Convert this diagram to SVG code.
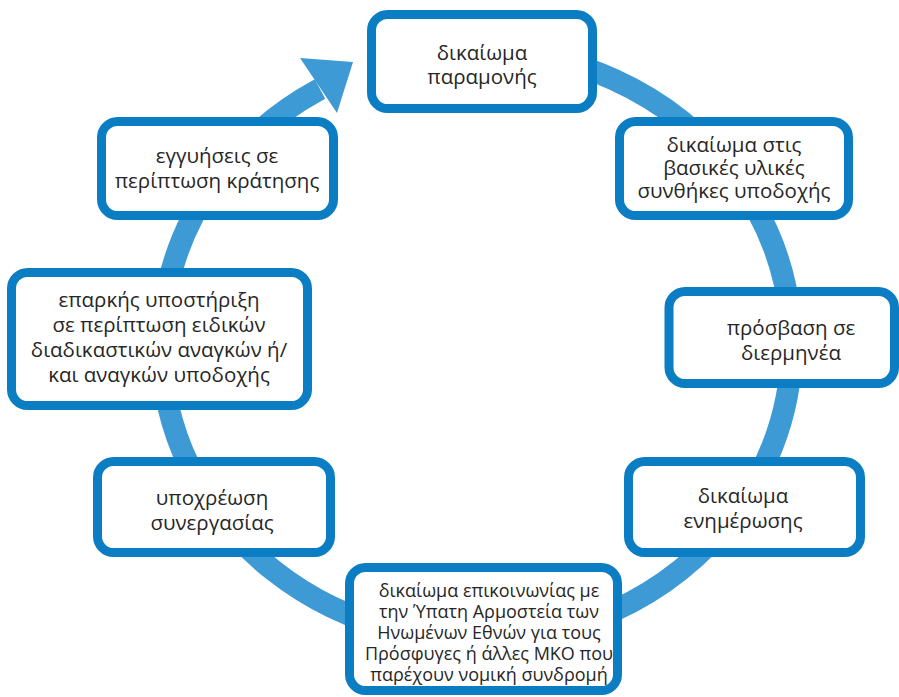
<svg xmlns="http://www.w3.org/2000/svg" width="899" height="697" viewBox="0 0 899 697">
<style>
.box{fill:#ffffff;stroke:#0A7DC3;stroke-width:9}
.t{font-family:"Open Sans","Noto Sans","DejaVu Sans",sans-serif;font-size:20.5px;fill:#262626;text-anchor:middle}
.s{font-size:18px}
.ring{fill:none;stroke:#3E9AD5;stroke-width:22}
</style>
<rect width="899" height="697" fill="#ffffff"/>
<g id="connectors">
<path class="ring" d="M 477 50 A 315 295 0 1 1 320 89"/>
<polygon points="300,58 353,62 337,113" fill="#3E9AD5"/>
</g>
<g id="n1">
<rect class="box" x="371.5" y="14.5" width="221" height="94" rx="16"/>
<text class="t" x="482" y="60">δικαίωμα</text>
<text class="t" x="482" y="84">παραμονής</text>
</g>
<g id="n2">
<rect class="box" x="619.5" y="121.5" width="229" height="94" rx="16"/>
<text class="t" x="734" y="152">δικαίωμα στις</text>
<text class="t" x="734" y="175">βασικές υλικές</text>
<text class="t" x="734" y="198">συνθήκες υποδοχής</text>
</g>
<g id="n3">
<rect class="box" x="669" y="291.5" width="225.5" height="92" rx="16"/>
<text class="t" x="791" y="335">πρόσβαση σε</text>
<text class="t" x="791" y="360">διερμηνέα</text>
</g>
<g id="n4">
<rect class="box" x="628.5" y="461.5" width="232" height="91" rx="16"/>
<text class="t" x="743" y="503">δικαίωμα</text>
<text class="t" x="743" y="528">ενημέρωσης</text>
</g>
<g id="n5">
<rect class="box" x="349.5" y="567.5" width="268" height="123" rx="16"/>
<text class="t s" x="489" y="597">δικαίωμα επικοινωνίας με</text>
<text class="t s" x="489" y="618">την Ύπατη Αρμοστεία των</text>
<text class="t s" x="489" y="639">Ηνωμένων Εθνών για τους</text>
<text class="t s" x="489" y="660">Πρόσφυγες ή άλλες ΜΚΟ που</text>
<text class="t s" x="489" y="681">παρέχουν νομική συνδρομή</text>
</g>
<g id="n6">
<rect class="box" x="97.5" y="461.5" width="233" height="91" rx="16"/>
<text class="t" x="212" y="505">υποχρέωση</text>
<text class="t" x="212" y="530">συνεργασίας</text>
</g>
<g id="n7">
<rect class="box" x="11.5" y="272.5" width="296" height="133" rx="16"/>
<text class="t" x="159" y="307">επαρκής υποστήριξη</text>
<text class="t" x="159" y="332">σε περίπτωση ειδικών</text>
<text class="t" x="159" y="357">διαδικαστικών αναγκών ή/</text>
<text class="t" x="159" y="382">και αναγκών υποδοχής</text>
</g>
<g id="n8">
<rect class="box" x="101.5" y="121.5" width="232" height="94" rx="16"/>
<text class="t" x="217" y="163">εγγυήσεις σε</text>
<text class="t" x="217" y="188">περίπτωση κράτησης</text>
</g>
</svg>
